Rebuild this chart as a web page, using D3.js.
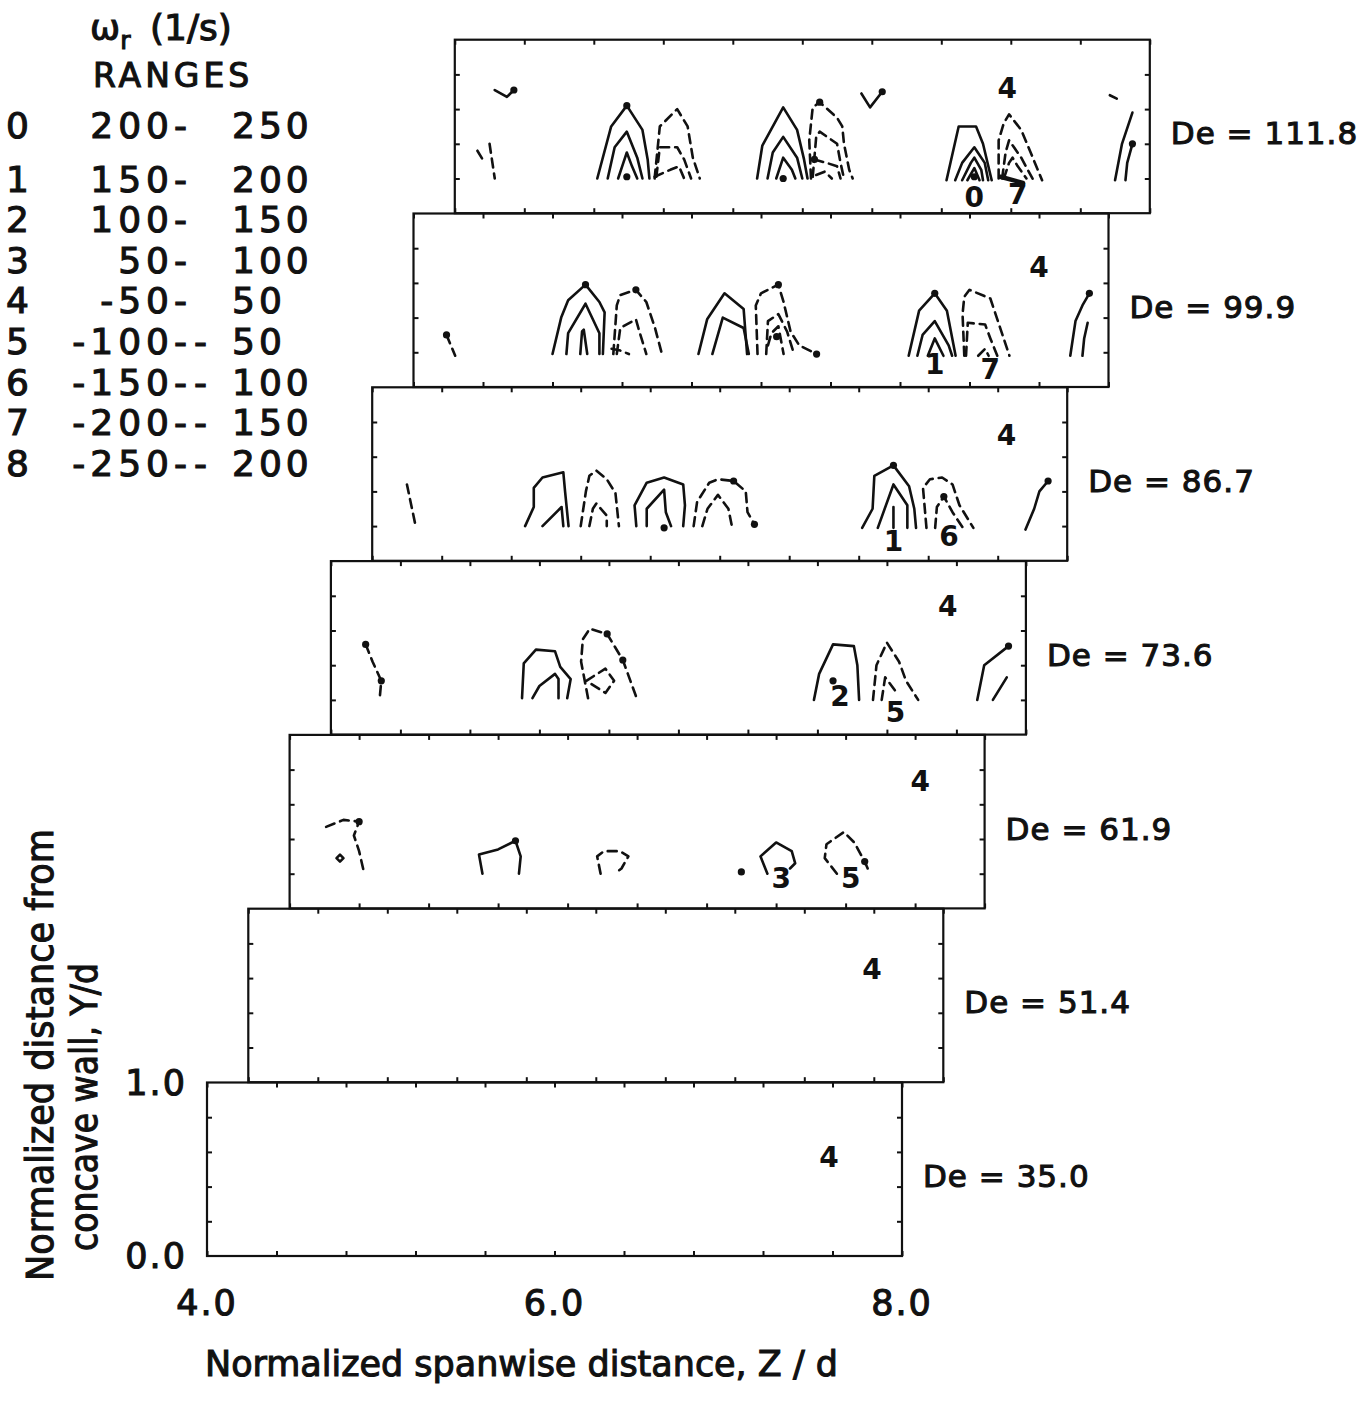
<!DOCTYPE html>
<html>
<head>
<meta charset="utf-8">
<script src="https://cdn.jsdelivr.net/npm/d3@7"></script>
<style>
  body { margin: 0; background: #fff; }
  svg { display: block; }
  text { font-family: "DejaVu Sans", sans-serif; fill: #111; }
  text.heavy { stroke: #111; stroke-width: 1.1px; }
</style>
</head>
<body>
<svg id="chart" width="1369" height="1408"></svg>
<script>
// Dean numbers of the stacked panels, bottom to top
const deanNumbers = [35.0, 51.4, 61.9, 73.6, 86.7, 99.9, 111.8];

// Vorticity range legend (1/s)
const rangeIndex = [0, 1, 2, 3, 4, 5, 6, 7, 8];
const rangeLow   = [200, 150, 100, 50, -50, -100, -150, -200, -250];
const rangeHigh  = [250, 200, 150, 100, 50, -50, -100, -150, -200];

// Axis ticks
const zTicks = [4.0, 4.4, 4.8, 5.2, 5.6, 6.0, 6.4, 6.8, 7.2, 7.6, 8.0];
const yTicks = [0.2, 0.4, 0.6, 0.8];
const zTickLabels = [4.0, 6.0, 8.0];
const yTickLabels = [0.0, 1.0];

// Iso-vorticity contours per panel: sign "+" positive (solid), "-" negative (dashed)
const contoursDe1118 = [
  { sign: "+", pts: [[4.23, 0.71], [4.30, 0.67], [4.34, 0.71]] },
  { sign: "-", pts: [[4.20, 0.40], [4.23, 0.20]] },
  { sign: "-", pts: [[4.13, 0.36], [4.16, 0.31]] },
  { sign: "+", pts: [[4.82, 0.20], [4.90, 0.50], [4.99, 0.62], [5.08, 0.48], [5.11, 0.31], [5.12, 0.20]] },
  { sign: "+", pts: [[4.88, 0.20], [4.92, 0.38], [4.99, 0.47], [5.05, 0.32], [5.08, 0.20]] },
  { sign: "+", pts: [[4.94, 0.20], [4.97, 0.29], [4.99, 0.35], [5.02, 0.27], [5.05, 0.20]] },
  { sign: "-", pts: [[5.15, 0.20], [5.18, 0.50], [5.28, 0.60], [5.34, 0.50], [5.37, 0.32], [5.41, 0.20]] },
  { sign: "-", pts: [[5.16, 0.21], [5.18, 0.38], [5.28, 0.38], [5.32, 0.31], [5.36, 0.20]] },
  { sign: "-", pts: [[5.15, 0.21], [5.24, 0.25], [5.29, 0.27], [5.32, 0.20]] },
  { sign: "+", pts: [[5.74, 0.20], [5.77, 0.39], [5.89, 0.61], [5.97, 0.48], [6.01, 0.31], [6.03, 0.20]] },
  { sign: "+", pts: [[5.80, 0.20], [5.83, 0.35], [5.89, 0.44], [5.97, 0.32], [6.00, 0.20]] },
  { sign: "+", pts: [[5.85, 0.20], [5.89, 0.32], [5.94, 0.25], [5.96, 0.20]] },
  { sign: "-", pts: [[6.05, 0.20], [6.04, 0.42], [6.06, 0.61], [6.10, 0.64], [6.20, 0.55], [6.23, 0.50], [6.24, 0.40], [6.27, 0.25], [6.29, 0.20]] },
  { sign: "-", pts: [[6.06, 0.21], [6.08, 0.44], [6.10, 0.47], [6.20, 0.40], [6.22, 0.29], [6.24, 0.20]] },
  { sign: "-", pts: [[6.07, 0.31], [6.14, 0.29], [6.20, 0.27], [6.22, 0.20]] },
  { sign: "-", pts: [[6.08, 0.22], [6.13, 0.24], [6.17, 0.20]] },
  { sign: "+", pts: [[6.34, 0.69], [6.39, 0.61], [6.46, 0.70]] },
  { sign: "+", pts: [[6.83, 0.19], [6.90, 0.50], [7.00, 0.50], [7.04, 0.40], [7.09, 0.19]] },
  { sign: "+", pts: [[6.88, 0.19], [6.92, 0.29], [6.99, 0.38], [7.05, 0.29], [7.07, 0.19]] },
  { sign: "+", pts: [[6.92, 0.19], [6.97, 0.29], [6.99, 0.32], [7.03, 0.25], [7.04, 0.19]] },
  { sign: "+", pts: [[6.95, 0.19], [6.99, 0.26], [7.02, 0.19]] },
  { sign: "-", pts: [[7.13, 0.20], [7.13, 0.42], [7.16, 0.52], [7.19, 0.57], [7.26, 0.48], [7.31, 0.36], [7.38, 0.19]] },
  { sign: "-", pts: [[7.15, 0.20], [7.17, 0.35], [7.19, 0.42], [7.26, 0.32], [7.33, 0.19]] },
  { sign: "-", pts: [[7.16, 0.20], [7.19, 0.29], [7.21, 0.32], [7.24, 0.27], [7.29, 0.20]] },
  { sign: "+", pts: [[7.80, 0.19], [7.84, 0.40], [7.90, 0.58]] },
  { sign: "+", pts: [[7.86, 0.19], [7.87, 0.29], [7.90, 0.40]] },
  { sign: "+", pts: [[7.77, 0.68], [7.81, 0.66]] }
];
const contoursDe999 = [
  { sign: "-", pts: [[4.19, 0.30], [4.24, 0.18]] },
  { sign: "+", pts: [[4.80, 0.19], [4.85, 0.40], [4.89, 0.50], [4.99, 0.59], [5.07, 0.49], [5.10, 0.43], [5.09, 0.19]] },
  { sign: "+", pts: [[4.88, 0.19], [4.89, 0.31], [4.99, 0.48], [5.07, 0.31], [5.07, 0.19]] },
  { sign: "+", pts: [[4.96, 0.19], [4.97, 0.32], [4.98, 0.33], [5.00, 0.19]] },
  { sign: "-", pts: [[5.15, 0.19], [5.17, 0.47], [5.19, 0.53], [5.28, 0.56], [5.34, 0.49], [5.39, 0.34], [5.43, 0.19]] },
  { sign: "-", pts: [[5.17, 0.19], [5.19, 0.34], [5.28, 0.39], [5.30, 0.32], [5.34, 0.19]] },
  { sign: "-", pts: [[5.14, 0.22], [5.19, 0.21], [5.24, 0.19]] },
  { sign: "+", pts: [[5.64, 0.19], [5.69, 0.39], [5.79, 0.54], [5.90, 0.45], [5.91, 0.32], [5.92, 0.19]] },
  { sign: "+", pts: [[5.72, 0.19], [5.78, 0.40], [5.90, 0.34], [5.93, 0.19]] },
  { sign: "-", pts: [[5.98, 0.19], [5.97, 0.47], [6.00, 0.54], [6.10, 0.59], [6.13, 0.49], [6.17, 0.32], [6.22, 0.24], [6.32, 0.19]] },
  { sign: "-", pts: [[6.03, 0.19], [6.04, 0.38], [6.10, 0.42], [6.15, 0.32], [6.19, 0.19]] },
  { sign: "-", pts: [[6.04, 0.24], [6.06, 0.31], [6.10, 0.35], [6.13, 0.19]] },
  { sign: "+", pts: [[6.85, 0.18], [6.91, 0.44], [7.00, 0.54], [7.07, 0.44], [7.12, 0.18]] },
  { sign: "+", pts: [[6.90, 0.18], [6.93, 0.30], [7.00, 0.38], [7.08, 0.24], [7.10, 0.18]] },
  { sign: "+", pts: [[6.96, 0.18], [7.00, 0.28], [7.05, 0.18]] },
  { sign: "-", pts: [[7.17, 0.18], [7.16, 0.42], [7.17, 0.52], [7.20, 0.56], [7.32, 0.51], [7.37, 0.36], [7.43, 0.18]] },
  { sign: "-", pts: [[7.18, 0.18], [7.19, 0.37], [7.29, 0.36], [7.32, 0.28], [7.36, 0.18]] },
  { sign: "-", pts: [[7.25, 0.18], [7.29, 0.22], [7.31, 0.18]] },
  { sign: "+", pts: [[7.78, 0.18], [7.81, 0.38], [7.85, 0.47], [7.89, 0.54]] },
  { sign: "+", pts: [[7.85, 0.18], [7.86, 0.28], [7.88, 0.37]] }
];
const contoursDe867 = [
  { sign: "-", pts: [[4.20, 0.44], [4.25, 0.20]] },
  { sign: "+", pts: [[4.88, 0.20], [4.93, 0.31], [4.93, 0.42], [4.98, 0.48], [5.10, 0.51], [5.11, 0.40], [5.13, 0.20]] },
  { sign: "+", pts: [[4.98, 0.20], [5.09, 0.31], [5.10, 0.20]] },
  { sign: "-", pts: [[5.20, 0.20], [5.23, 0.40], [5.25, 0.49], [5.29, 0.52], [5.35, 0.47], [5.40, 0.39], [5.42, 0.20]] },
  { sign: "-", pts: [[5.25, 0.20], [5.27, 0.30], [5.29, 0.33], [5.35, 0.26], [5.35, 0.20]] },
  { sign: "+", pts: [[5.52, 0.20], [5.51, 0.32], [5.58, 0.45], [5.68, 0.48], [5.79, 0.44], [5.80, 0.32], [5.79, 0.20]] },
  { sign: "+", pts: [[5.58, 0.20], [5.58, 0.30], [5.68, 0.41], [5.69, 0.28], [5.72, 0.20]] },
  { sign: "-", pts: [[5.85, 0.20], [5.87, 0.34], [5.94, 0.45], [5.99, 0.47], [6.08, 0.46], [6.15, 0.40], [6.16, 0.28], [6.20, 0.21]] },
  { sign: "-", pts: [[5.90, 0.20], [5.93, 0.30], [5.99, 0.38], [6.05, 0.30], [6.07, 0.20]] },
  { sign: "+", pts: [[6.82, 0.19], [6.88, 0.30], [6.89, 0.49], [7.00, 0.55], [7.09, 0.43], [7.12, 0.30], [7.13, 0.19]] },
  { sign: "+", pts: [[6.91, 0.19], [7.00, 0.44], [7.08, 0.32], [7.08, 0.19]] },
  { sign: "+", pts: [[7.00, 0.31], [7.00, 0.19]] },
  { sign: "-", pts: [[7.19, 0.19], [7.17, 0.42], [7.21, 0.47], [7.28, 0.48], [7.34, 0.44], [7.38, 0.32], [7.46, 0.19]] },
  { sign: "-", pts: [[7.24, 0.19], [7.25, 0.31], [7.29, 0.37], [7.34, 0.28], [7.40, 0.19]] },
  { sign: "+", pts: [[7.76, 0.18], [7.81, 0.30], [7.84, 0.40], [7.89, 0.46]] }
];
const contoursDe736 = [
  { sign: "-", pts: [[4.20, 0.52], [4.24, 0.42], [4.29, 0.31], [4.28, 0.20]] },
  { sign: "+", pts: [[5.10, 0.21], [5.11, 0.41], [5.18, 0.49], [5.29, 0.48], [5.32, 0.39], [5.38, 0.32], [5.36, 0.21]] },
  { sign: "+", pts: [[5.16, 0.21], [5.20, 0.28], [5.29, 0.35], [5.31, 0.32], [5.31, 0.21]] },
  { sign: "-", pts: [[5.48, 0.21], [5.44, 0.42], [5.45, 0.55], [5.49, 0.61], [5.59, 0.58], [5.68, 0.43], [5.76, 0.21]] },
  { sign: "-", pts: [[5.47, 0.31], [5.58, 0.38], [5.63, 0.31], [5.58, 0.24], [5.47, 0.31]] },
  { sign: "+", pts: [[6.78, 0.20], [6.81, 0.35], [6.89, 0.52], [7.01, 0.51], [7.03, 0.40], [7.04, 0.20]] },
  { sign: "-", pts: [[7.12, 0.20], [7.14, 0.40], [7.20, 0.53], [7.27, 0.42], [7.31, 0.31], [7.38, 0.20]] },
  { sign: "-", pts: [[7.17, 0.20], [7.19, 0.33], [7.25, 0.25]] },
  { sign: "+", pts: [[7.72, 0.20], [7.76, 0.40], [7.90, 0.51]] },
  { sign: "+", pts: [[7.81, 0.20], [7.89, 0.33]] }
];
const contoursDe619 = [
  { sign: "-", pts: [[4.21, 0.47], [4.31, 0.51], [4.40, 0.50], [4.37, 0.42], [4.40, 0.33], [4.43, 0.20]] },
  { sign: "+", pts: [[4.27, 0.29], [4.29, 0.31], [4.31, 0.29], [4.29, 0.27], [4.27, 0.29]] },
  { sign: "+", pts: [[5.11, 0.20], [5.09, 0.31], [5.20, 0.34], [5.30, 0.39], [5.33, 0.30], [5.32, 0.20]] },
  { sign: "-", pts: [[5.79, 0.20], [5.77, 0.30], [5.81, 0.33], [5.90, 0.33], [5.95, 0.30], [5.91, 0.23], [5.87, 0.20]] },
  { sign: "+", pts: [[6.75, 0.20], [6.71, 0.30], [6.80, 0.38], [6.89, 0.33], [6.91, 0.26], [6.88, 0.23]] },
  { sign: "-", pts: [[7.15, 0.20], [7.08, 0.29], [7.09, 0.37], [7.19, 0.44], [7.25, 0.38], [7.31, 0.27], [7.34, 0.20]] }
];
const contoursDe514 = [];
const contoursDe350 = [];

// Vertex dots marked on the contours
const dotsDe1118 = [[4.34, 0.71], [4.99, 0.62], [4.99, 0.21], [5.89, 0.20], [6.10, 0.64], [6.07, 0.31], [6.46, 0.70], [6.99, 0.21], [7.90, 0.40]];
const dotsDe999  = [[4.19, 0.30], [4.99, 0.59], [5.28, 0.56], [6.10, 0.59], [6.32, 0.19], [6.09, 0.29], [7.00, 0.54], [7.89, 0.54]];
const dotsDe867  = [[5.68, 0.19], [6.08, 0.46], [6.20, 0.21], [7.00, 0.55], [7.29, 0.37], [7.89, 0.46]];
const dotsDe736  = [[4.20, 0.52], [4.29, 0.31], [5.59, 0.58], [5.68, 0.43], [6.89, 0.31], [7.90, 0.51]];
const dotsDe619  = [[4.40, 0.50], [6.60, 0.21], [7.31, 0.27], [5.30, 0.39]];
const dotsDe514  = [];
const dotsDe350  = [];

// Range-index labels written inside each panel
const labelsDe1118 = [{ text: "4", z: 7.18, y: 0.72 }, { text: "0", z: 6.99, y: 0.09 }, { text: "7", z: 7.24, y: 0.11 }];
const labelsDe999  = [{ text: "4", z: 7.60, y: 0.69 }, { text: "1", z: 7.00, y: 0.13 }, { text: "7", z: 7.32, y: 0.10 }];
const labelsDe867  = [{ text: "4", z: 7.65, y: 0.72 }, { text: "1", z: 7.00, y: 0.11 }, { text: "6", z: 7.32, y: 0.14 }];
const labelsDe736  = [{ text: "4", z: 7.55, y: 0.74 }, { text: "2", z: 6.93, y: 0.22 }, { text: "5", z: 7.25, y: 0.13 }];
const labelsDe619  = [{ text: "4", z: 7.63, y: 0.73 }, { text: "3", z: 6.83, y: 0.17 }, { text: "5", z: 7.23, y: 0.17 }];
const labelsDe514  = [{ text: "4", z: 7.59, y: 0.65 }];
const labelsDe350  = [{ text: "4", z: 7.58, y: 0.57 }];

// Leader arrow tying the "7" label to its contour
const leadersDe1118 = [[[7.14, 0.21], [7.27, 0.175]]];

const panels = [
  { contours: contoursDe350,  dots: dotsDe350,  labels: labelsDe350,  leaders: [] },
  { contours: contoursDe514,  dots: dotsDe514,  labels: labelsDe514,  leaders: [] },
  { contours: contoursDe619,  dots: dotsDe619,  labels: labelsDe619,  leaders: [] },
  { contours: contoursDe736,  dots: dotsDe736,  labels: labelsDe736,  leaders: [] },
  { contours: contoursDe867,  dots: dotsDe867,  labels: labelsDe867,  leaders: [] },
  { contours: contoursDe999,  dots: dotsDe999,  labels: labelsDe999,  leaders: [] },
  { contours: contoursDe1118, dots: dotsDe1118, labels: labelsDe1118, leaders: leadersDe1118 }
].map((p, i) => ({ ...p, de: deanNumbers[i] }));

// ---- layout ----
const svg = d3.select("#chart");
const panelW = 695, panelH = 173.5;
const baseLeft = 207, baseBottom = 1256;
const stepX = 41.3, stepY = 173.8;

const x = d3.scaleLinear().domain([4, 8]).range([0, panelW]);
const y = d3.scaleLinear().domain([0, 1]).range([panelH, 0]);
const line = d3.line().x(d => x(d[0])).y(d => y(d[1]));

const ink = "#111";

panels.forEach((p, i) => {
  const g = svg.append("g")
    .attr("transform", `translate(${baseLeft + stepX * i},${baseBottom - stepY * i - panelH})`);

  g.append("rect")
    .attr("width", panelW).attr("height", panelH)
    .attr("fill", "none").attr("stroke", ink).attr("stroke-width", 2.2);

  const tickAxis = (axis, tr) => {
    const a = g.append("g").attr("transform", tr).call(axis);
    a.select(".domain").remove();
    a.selectAll(".tick line").attr("stroke", ink).attr("stroke-width", 2);
  };
  tickAxis(d3.axisTop(x).tickValues(zTicks).tickSize(-5).tickFormat(""), "translate(0,0)");
  tickAxis(d3.axisBottom(x).tickValues(zTicks).tickSize(-5).tickFormat(""), `translate(0,${panelH})`);
  tickAxis(d3.axisLeft(y).tickValues(yTicks).tickSize(-5).tickFormat(""), "translate(0,0)");
  tickAxis(d3.axisRight(y).tickValues(yTicks).tickSize(-5).tickFormat(""), `translate(${panelW},0)`);

  g.selectAll("path.contour")
    .data(p.contours)
    .join("path")
    .attr("class", "contour")
    .attr("d", d => line(d.pts))
    .attr("fill", "none")
    .attr("stroke", ink)
    .attr("stroke-width", 2.6)
    .attr("stroke-linejoin", "round")
    .attr("stroke-linecap", "round")
    .attr("stroke-dasharray", d => d.sign === "-" ? "9,6" : null);

  g.selectAll("path.leader")
    .data(p.leaders)
    .join("path")
    .attr("class", "leader")
    .attr("d", d => line(d))
    .attr("stroke", ink)
    .attr("stroke-width", 4.5)
    .attr("stroke-linecap", "round");

  g.selectAll("circle.dot")
    .data(p.dots)
    .join("circle")
    .attr("class", "dot")
    .attr("cx", d => x(d[0])).attr("cy", d => y(d[1]))
    .attr("r", 3.6).attr("fill", ink);

  g.selectAll("text.level")
    .data(p.labels)
    .join("text")
    .attr("class", "level")
    .attr("x", d => x(d.z)).attr("y", d => y(d.y))
    .attr("text-anchor", "middle")
    .attr("dominant-baseline", "central")
    .attr("font-size", 28)
    .attr("font-weight", "bold")
    .text(d => d.text);

  g.append("text")
    .attr("class", "heavy")
    .attr("x", panelW + 21)
    .attr("y", y(0.46))
    .attr("dominant-baseline", "central")
    .attr("font-size", 31)
    .attr("letter-spacing", 1)
    .text(`De = ${p.de.toFixed(1)}`);

  if (i === 0) {
    g.selectAll("text.zlab")
      .data(zTickLabels)
      .join("text")
      .attr("class", "zlab heavy")
      .attr("x", d => x(d)).attr("y", panelH + 59)
      .attr("text-anchor", "middle")
      .attr("font-size", 35)
      .attr("letter-spacing", 2)
      .text(d => d.toFixed(1));
    g.selectAll("text.ylab")
      .data(yTickLabels)
      .join("text")
      .attr("class", "ylab heavy")
      .attr("x", -20).attr("y", d => y(d))
      .attr("text-anchor", "end")
      .attr("dominant-baseline", "central")
      .attr("font-size", 35)
      .attr("letter-spacing", 2)
      .text(d => d.toFixed(1));
  }
});

// ---- axis titles ----
svg.append("text")
  .attr("class", "heavy")
  .attr("x", 205).attr("y", 1376)
  .attr("font-size", 35)
  .attr("textLength", 633).attr("lengthAdjust", "spacingAndGlyphs")
  .text("Normalized spanwise distance, Z / d");

svg.append("text")
  .attr("class", "heavy")
  .attr("transform", "translate(53,1281) rotate(-90)")
  .attr("font-size", 37)
  .attr("textLength", 452).attr("lengthAdjust", "spacingAndGlyphs")
  .text("Normalized distance from");

svg.append("text")
  .attr("class", "heavy")
  .attr("transform", "translate(97,1251) rotate(-90)")
  .attr("font-size", 37)
  .attr("textLength", 288).attr("lengthAdjust", "spacingAndGlyphs")
  .text("concave wall, Y/d");

// ---- legend ----
const legend = svg.append("g");
const omega = legend.append("text").attr("class", "heavy").attr("x", 90).attr("y", 40).attr("font-size", 36);
omega.append("tspan").text("ω");
omega.append("tspan").attr("font-size", 25).attr("dy", 9).text("r");
omega.append("tspan").attr("x", 150).attr("dy", -9).text("(1/s)");

legend.append("text")
  .attr("class", "heavy")
  .attr("x", 93).attr("y", 87)
  .attr("font-size", 33).attr("letter-spacing", 4)
  .text("RANGES");

const rowY = k => k === 0 ? 125 : 179 + (k - 1) * 40.6;
const fmtMag = v => String(Math.abs(v));

rangeIndex.forEach((idx, k) => {
  const row = legend.append("g")
    .attr("transform", `translate(0,${rowY(k)})`)
    .attr("font-size", 36);
  row.append("text").attr("class", "heavy").attr("x", 6).attr("dominant-baseline", "central").text(idx);
  row.append("text").attr("class", "heavy").attr("x", 192).attr("text-anchor", "end")
    .attr("dominant-baseline", "central").attr("letter-spacing", 5)
    .text((rangeLow[idx] < 0 ? "-" : "") + fmtMag(rangeLow[idx]) + "-");
  if (rangeHigh[idx] < 0) {
    row.append("text").attr("class", "heavy").attr("x", 194).attr("dominant-baseline", "central").text("-");
  }
  row.append("text").attr("class", "heavy").attr("x", 232).attr("dominant-baseline", "central")
    .attr("letter-spacing", 4).text(fmtMag(rangeHigh[idx]));
});
</script>
</body>
</html>
